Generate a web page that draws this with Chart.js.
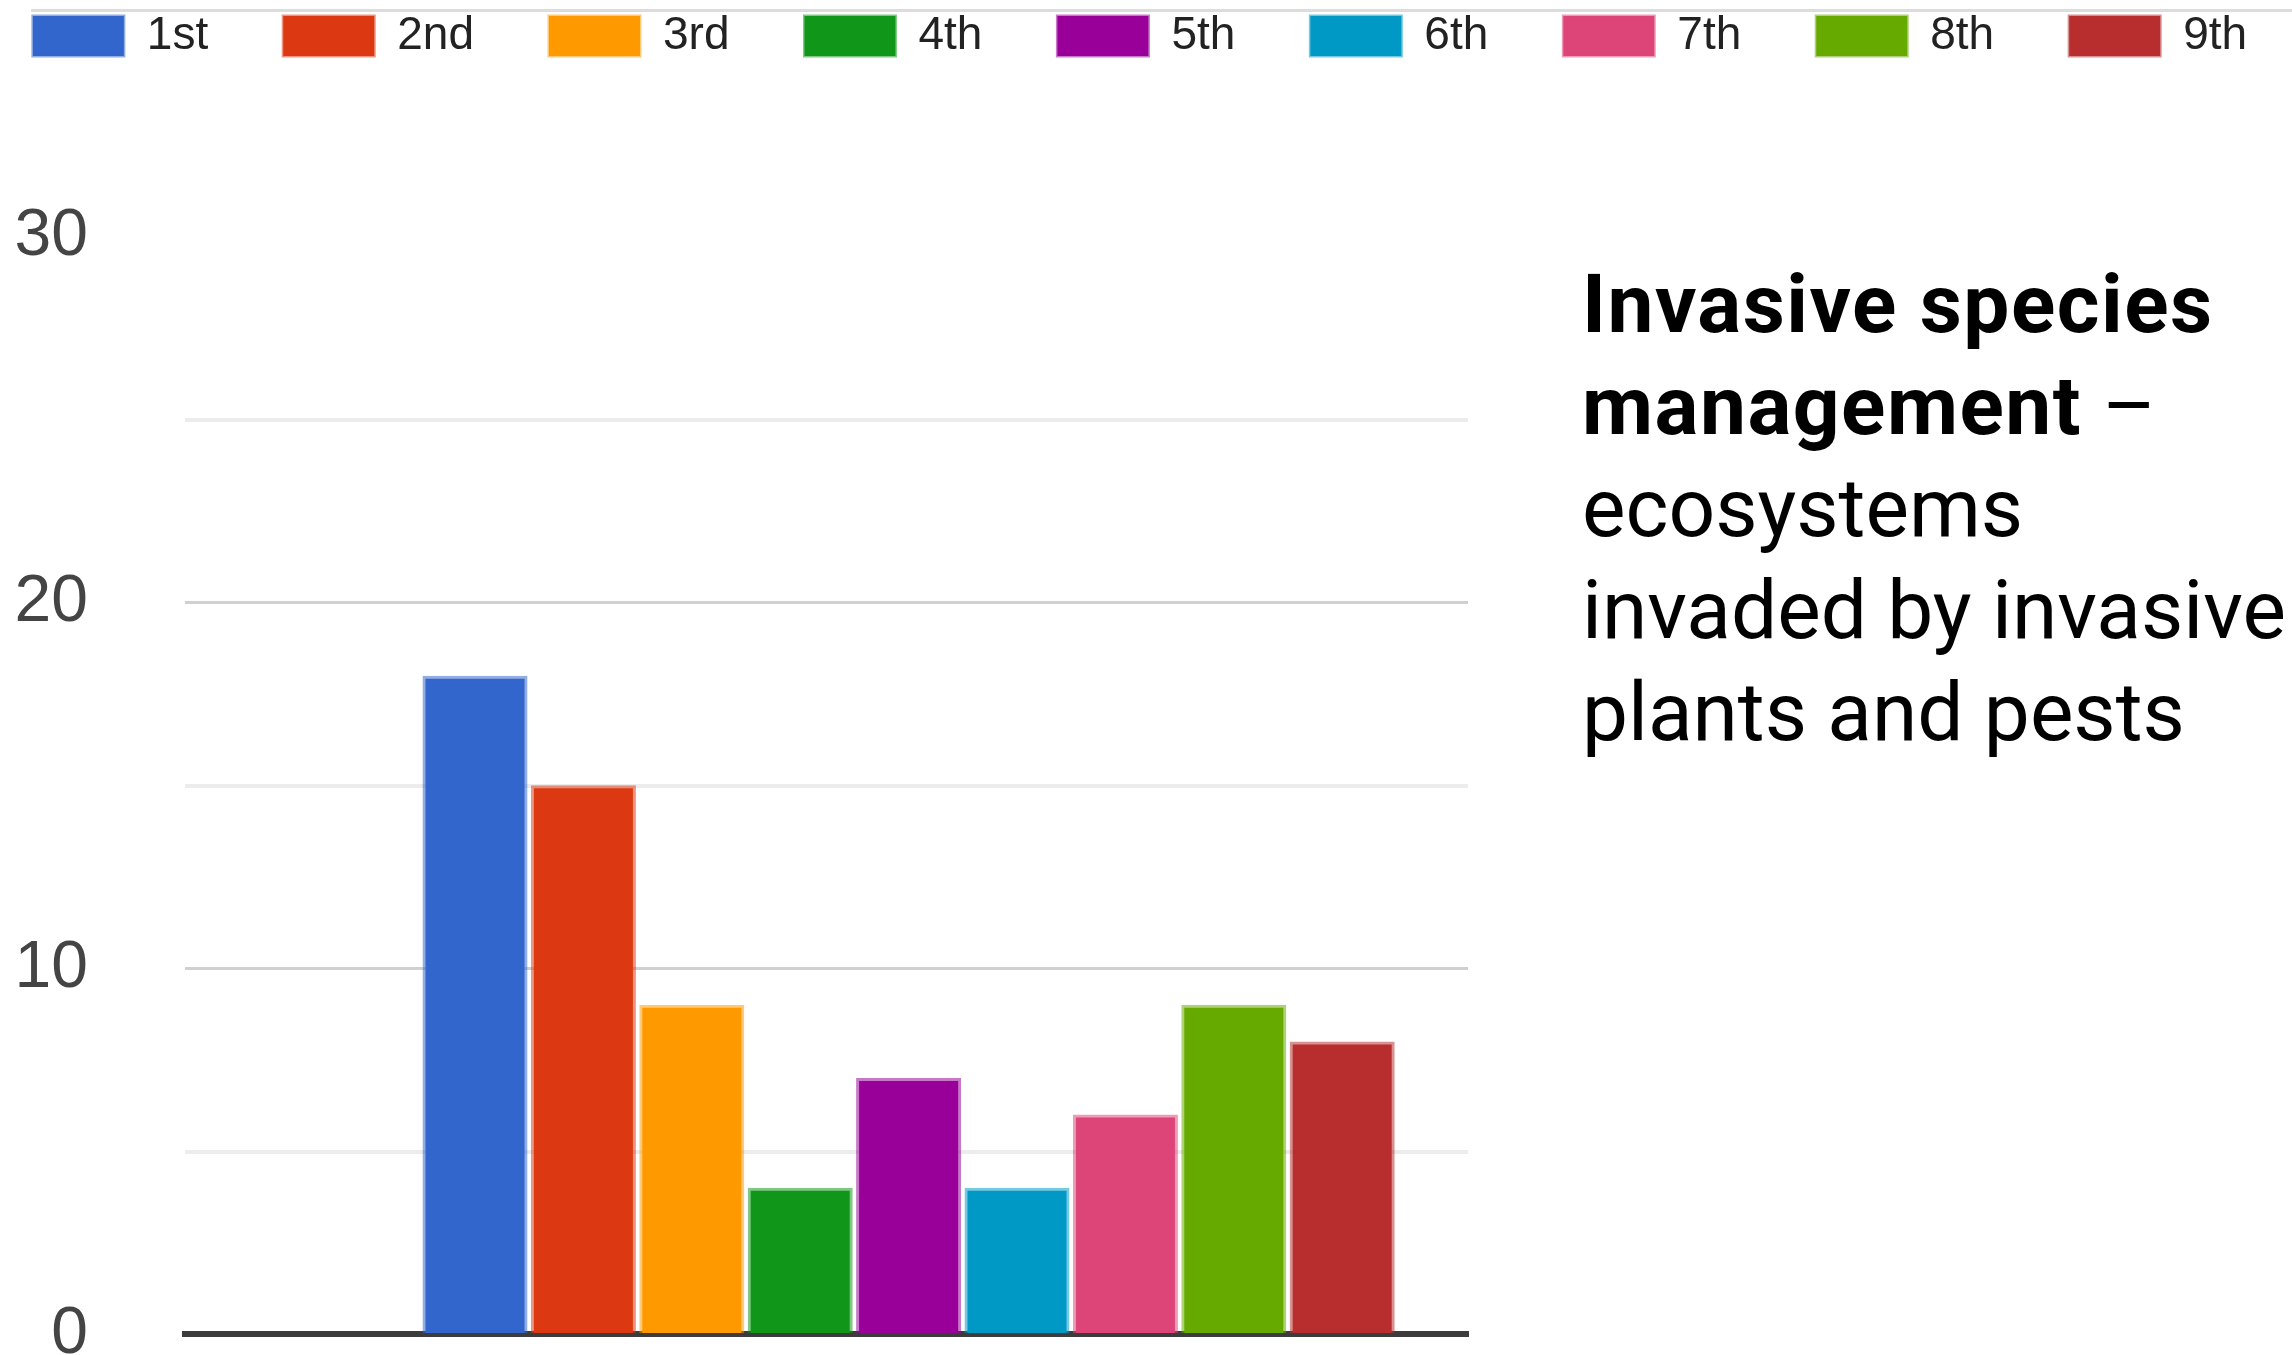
<!DOCTYPE html>
<html>

<head>
    <title>Invasive species management</title>
    <script src="https://cdn.jsdelivr.net/npm/chart.js@4"></script>
    <style>
        html, body { margin: 0; padding: 0; background: #fff; overflow: hidden; }
        body { width: 2292px; height: 1355px; position: relative; }
        #rule { position: absolute; left: 31px; right: 0; top: 9px; height: 3px; background: #dcdcdc; }
        #chart { position: absolute; left: -60px; top: -62px; }
        #caption {
            position: absolute; left: 1582px; top: 253px;
            font-family: Roboto, sans-serif; font-size: 82px; line-height: 102px;
            color: #000; white-space: nowrap;
        }
        #caption b { font-weight: 700; letter-spacing: 1.5px; }
    </style>
</head>

<body>
    <div id="rule"></div>
    <!-- canvas is a bit larger than the page so the legend fits on one row -->
    <canvas id="chart" width="2400" height="1533"></canvas>
    <div id="caption"><b>Invasive species<br>management</b> –<br>ecosystems<br>invaded by invasive<br>plants and pests</div>
    <script>
        // ranking answers (one series per rank) for the single question
        const ranks = ['1st', '2nd', '3rd', '4th', '5th', '6th', '7th', '8th', '9th'];
        const counts = [18, 15, 9, 4, 7, 4, 6, 9, 8];
        const rankColors = ['#3366cc', '#dc3912', '#ff9900', '#109618', '#990099', '#0099c6', '#dd4477', '#66aa00', '#b82e2e'];

        // y axis: grid every 5, labels every 10
        const yMax = 30;
        const yStep = 5;
        const yLabelEvery = 10;

        const datasets = ranks.map((rank, i) => ({
            label: rank,
            data: [{ x: 1, y: counts[i] }], // x = the one question group
            backgroundColor: rankColors[i],
            borderColor: rankColors[i] + '88',
            borderWidth: 3,
            barThickness: 108.4,
            maxBarThickness: 104.4,
        }));

        const gridColor = (ctx) => {
            const v = ctx.tick.value;
            if (v === 0 || v === yMax) return 'rgba(0,0,0,0)';
            return v % yLabelEvery === 0 ? '#d0d0d0' : '#ececec';
        };

        const canvas = document.getElementById('chart');

        const chart = new Chart(canvas, {
            type: 'bar',
            data: { datasets },
            options: {
                responsive: false,
                animation: false,
                devicePixelRatio: 1,
                plugins: {
                    tooltip: { enabled: false },
                    legend: {
                        position: 'top',
                        labels: {
                            boxWidth: 91,
                            boxHeight: 40,
                            padding: 75,
                            color: '#222',
                            font: { size: 46, family: "'Liberation Sans', Arial, sans-serif" },
                        },
                    },
                },
                scales: {
                    x: {
                        type: 'linear',
                        position: 'bottom',
                        min: 0,
                        max: 1.751,
                        z: 1,
                        ticks: { display: false },
                        grid: { display: false, drawTicks: false },
                        border: { display: true, color: '#3c3c3c', width: 6 },
                    },
                    // empty axis only used to leave room under the legend
                    xTop: {
                        type: 'linear',
                        position: 'top',
                        ticks: { display: false },
                        grid: { display: false, drawTicks: false },
                        border: { display: false },
                        afterFit: (scale) => {
                            const legendH = scale.chart.legend ? scale.chart.legend.height : 0;
                            scale.height = Math.max(0, 299 - legendH);
                        },
                    },
                    y: {
                        type: 'linear',
                        position: 'left',
                        min: 0,
                        max: yMax,
                        ticks: {
                            stepSize: yStep,
                            autoSkip: false,
                            padding: 97,
                            color: '#444',
                            font: { size: 66, family: "'Liberation Sans', Arial, sans-serif" },
                            callback: (v) => (v % yLabelEvery === 0 ? v : ''),
                        },
                        grid: {
                            drawTicks: false,
                            color: gridColor,
                            lineWidth: (ctx) => (ctx.tick.value % yLabelEvery === 0 ? 3 : 4),
                        },
                        border: { display: false },
                        afterFit: (scale) => { scale.width = 245; },
                    },
                    // empty axis keeping the right part free for the caption
                    yRight: {
                        type: 'linear',
                        position: 'right',
                        ticks: { display: false },
                        grid: { display: false, drawTicks: false },
                        border: { display: false },
                        afterFit: (scale) => { scale.width = 872; },
                    },
                },
            },
        });
    </script>
</body>

</html>
